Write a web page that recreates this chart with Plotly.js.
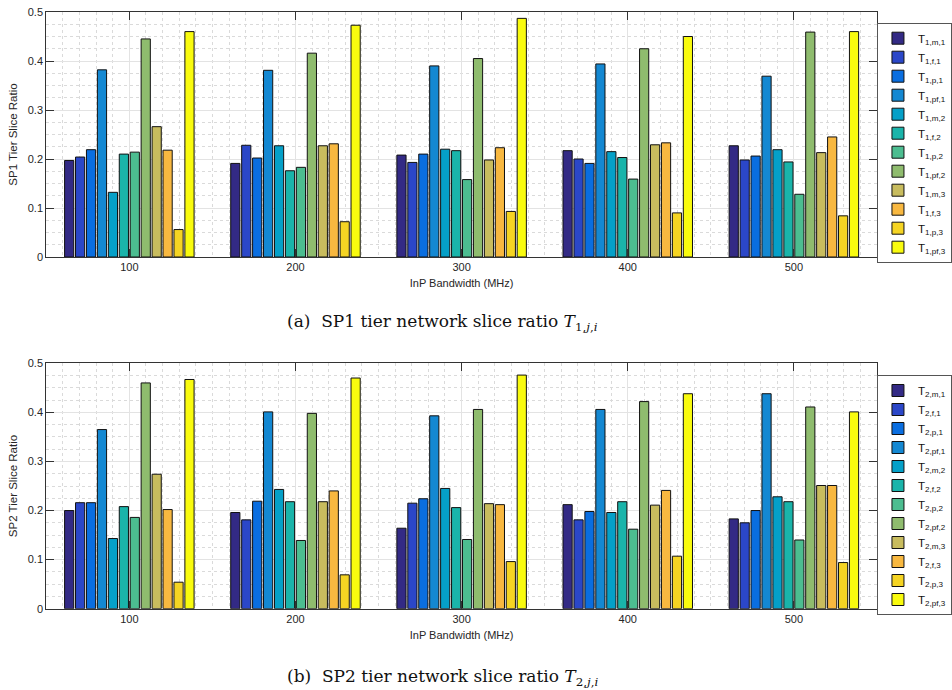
<!DOCTYPE html>
<html>
<head>
<meta charset="utf-8">
<script src="https://cdn.plot.ly/plotly-3.0.1.min.js"></script>
<style>
  html, body { margin: 0; padding: 0; background: #fff; }
  #chart { width: 952px; height: 690px; }
</style>
</head>
<body>
<div id="chart"></div>
<script>
// InP bandwidth groups (MHz)
const bandwidth = [100, 200, 300, 400, 500];

// Slice subscripts: service type (m, f, p, pf) and tier index (1..3)
const sliceKeys = ['m,1', 'f,1', 'p,1', 'pf,1', 'm,2', 'f,2', 'p,2', 'pf,2', 'm,3', 'f,3', 'p,3', 'pf,3'];

// Parula-like palette, one colour per slice
const sliceColors = ['#332a85', '#2b47c8', '#0a6ee0', '#1488d2', '#05a0c8', '#1ab4aa',
                     '#4cbd90', '#8fbc6e', '#c8bc5e', '#f8b840', '#f5d423', '#f9fb0e'];

// SP1 tier slice ratio, one row per slice, one column per bandwidth
const sp1Ratio = [
  [0.197, 0.191, 0.208, 0.217, 0.227],
  [0.204, 0.228, 0.193, 0.200, 0.198],
  [0.219, 0.202, 0.210, 0.191, 0.206],
  [0.382, 0.381, 0.390, 0.394, 0.369],
  [0.132, 0.227, 0.220, 0.215, 0.219],
  [0.210, 0.176, 0.217, 0.203, 0.194],
  [0.214, 0.183, 0.158, 0.159, 0.128],
  [0.445, 0.416, 0.405, 0.425, 0.459],
  [0.266, 0.227, 0.198, 0.229, 0.213],
  [0.218, 0.231, 0.223, 0.233, 0.245],
  [0.056, 0.072, 0.093, 0.090, 0.084],
  [0.460, 0.473, 0.487, 0.450, 0.460]
];

// SP2 tier slice ratio
const sp2Ratio = [
  [0.200, 0.196, 0.164, 0.212, 0.183],
  [0.216, 0.181, 0.215, 0.181, 0.175],
  [0.216, 0.219, 0.224, 0.198, 0.200],
  [0.365, 0.401, 0.393, 0.406, 0.438],
  [0.143, 0.243, 0.245, 0.196, 0.228],
  [0.208, 0.218, 0.206, 0.218, 0.218],
  [0.186, 0.139, 0.141, 0.162, 0.140],
  [0.460, 0.398, 0.406, 0.422, 0.411],
  [0.274, 0.218, 0.214, 0.211, 0.251],
  [0.202, 0.240, 0.212, 0.241, 0.251],
  [0.054, 0.069, 0.096, 0.107, 0.094],
  [0.467, 0.470, 0.476, 0.438, 0.401]
];

const yTicks = [0, 0.1, 0.2, 0.3, 0.4, 0.5];
const yTickText = ['0', '0.1', '0.2', '0.3', '0.4', '0.5'];
const xTicks = [100, 200, 300, 400, 500];

const W = 952, H = 690;
const txt = '#262626';
const font = 'Liberation Sans, Arial, Helvetica, sans-serif';

function makeBars(ratio, sp, xa, ya, legendId) {
  return ratio.map((vals, i) => ({
    type: 'bar',
    x: bandwidth,
    y: vals,
    xaxis: xa,
    yaxis: ya,
    legend: legendId,
    name: 'T<sub>' + sp + ',' + sliceKeys[i] + '</sub>',
    marker: { color: sliceColors[i], line: { color: '#111', width: 1 } },
    hovertemplate: '%{x} MHz: %{y}<extra></extra>'
  }));
}

const traces = [
  ...makeBars(sp1Ratio, 1, 'x', 'y', 'legend'),
  ...makeBars(sp2Ratio, 2, 'x2', 'y2', 'legend2')
];

function xAxis(anchor) {
  return {
    domain: [47 / W, 891 / W],
    anchor: anchor,
    range: [50, 550],
    tickvals: xTicks,
    ticks: 'inside', ticklen: 8, tickcolor: '#333', tickwidth: 1,
    showline: true, linecolor: '#333', linewidth: 1, mirror: 'ticks',
    showgrid: true, gridcolor: '#e3e3e3', gridwidth: 1,
    minor: { dtick: 10, showgrid: true, gridcolor: '#dadada', griddash: 'dot', gridwidth: 1, ticks: '' },
    zeroline: false,
    tickfont: { family: font, size: 11, color: txt },
    title: { text: 'InP Bandwidth (MHz)', font: { family: font, size: 11, color: txt }, standoff: 7 }
  };
}

function yAxis(domain, anchor, label) {
  return {
    domain: domain,
    anchor: anchor,
    range: [0, 0.5],
    tickvals: yTicks,
    ticktext: yTickText,
    ticks: 'inside', ticklen: 8, tickcolor: '#333', tickwidth: 1,
    showline: true, linecolor: '#333', linewidth: 1, mirror: 'ticks',
    showgrid: true, gridcolor: '#e3e3e3', gridwidth: 1,
    minor: { dtick: 0.025, showgrid: true, gridcolor: '#dadada', griddash: 'dot', gridwidth: 1, ticks: '' },
    zeroline: false,
    tickfont: { family: font, size: 11, color: txt },
    title: { text: label, font: { family: font, size: 11.5, color: txt }, standoff: 7 }
  };
}

function legendBox(topPx) {
  return {
    x: 891 / W, xanchor: 'left',
    y: 1 - topPx / H, yanchor: 'top',
    bgcolor: '#ffffff',
    bordercolor: '#555', borderwidth: 1,
    font: { family: font, size: 11.5, color: '#111' },
    traceorder: 'normal',
    itemclick: false, itemdoubleclick: false
  };
}

const capFont = { family: 'DejaVu Serif, Liberation Serif, serif', size: 17, color: '#111' };

const layout = {
  width: W, height: H,
  margin: { l: 0, r: 0, t: 0, b: 0 },
  paper_bgcolor: '#ffffff',
  plot_bgcolor: '#ffffff',
  barmode: 'group',
  bargap: 0.21,
  bargroupgap: 0.16,
  showlegend: true,
  xaxis: xAxis('y'),
  yaxis: yAxis([1 - 257 / H, 1 - 12 / H], 'x', 'SP1 Tier Slice Ratio'),
  xaxis2: xAxis('y2'),
  yaxis2: yAxis([1 - 608.7 / H, 1 - 363.3 / H], 'x2', 'SP2 Tier Slice Ratio'),
  legend: legendBox(22.7),
  legend2: legendBox(375),
  annotations: [
    {
      xref: 'paper', yref: 'paper', x: 450 / W, y: 1 - 322 / H,
      xanchor: 'center', yanchor: 'middle', showarrow: false,
      text: '(a)  SP1 tier network slice ratio <i>T</i><sub>1,<i>j</i>,<i>i</i></sub>',
      font: capFont
    },
    {
      xref: 'paper', yref: 'paper', x: 450 / W, y: 1 - 677 / H,
      xanchor: 'center', yanchor: 'middle', showarrow: false,
      text: '(b)  SP2 tier network slice ratio <i>T</i><sub>2,<i>j</i>,<i>i</i></sub>',
      font: capFont
    }
  ]
};

Plotly.newPlot('chart', traces, layout, { displayModeBar: false, staticPlot: true });
</script>
</body>
</html>
